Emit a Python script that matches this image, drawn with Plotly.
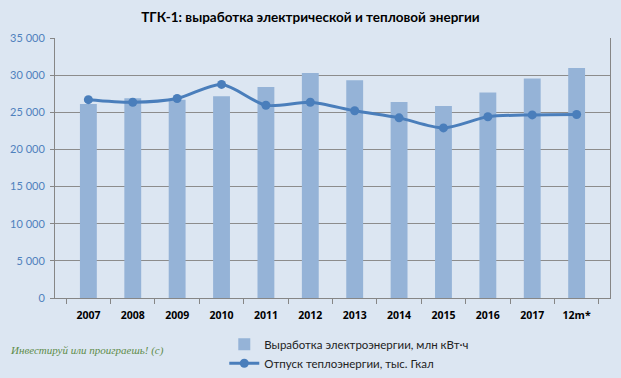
import plotly.graph_objects as go

categories = ["2007", "2008", "2009", "2010", "2011", "2012", "2013", "2014", "2015", "2016", "2017", "12m*"]
electricity = [26100, 26900, 26700, 27150, 28400, 30300, 29300, 26400, 25850, 27650, 29550, 30950]
heat = [26700, 26350, 26850, 28750, 25950, 26350, 25200, 24250, 22900, 24400, 24650, 24700]

bg = "#DCE6F2"
fig = go.Figure()
fig.add_trace(go.Bar(
    x=categories, y=electricity, name="Выработка электроэнергии, млн кВт·ч",
    marker=dict(color="#95B3D7", line=dict(width=0)),
))
fig.add_trace(go.Scatter(
    x=categories, y=heat, name="Отпуск теплоэнергии, тыс. Гкал",
    mode="lines+markers", line=dict(color="#4A7EBB", width=3, shape="spline", smoothing=0.8),
    marker=dict(size=9, color="#4A7EBB"),
))

fig.update_layout(
    width=621, height=378,
    margin=dict(l=55, r=11, t=38, b=80, autoexpand=False),
    paper_bgcolor=bg, plot_bgcolor=bg,
    separators=", ",
    bargap=0.62,
    title=dict(text="<b>ТГК-1: выработка электрической и тепловой энергии</b>",
               x=0.5, xanchor="center", y=0.955, yanchor="middle",
               font=dict(family="Lato", size=13.5, color="#000000")),
    font=dict(family="Lato"),
    legend=dict(x=0.305, y=-0.122, xanchor="left", yanchor="top",
                bgcolor="rgba(0,0,0,0)", font=dict(size=11.5, color="#222222"),
                tracegroupgap=0, itemwidth=30),
    showlegend=True,
)
fig.update_xaxes(
    showline=True, linecolor="#868686", linewidth=1,
    ticks="outside", ticklen=5, tickcolor="#868686", tickson="boundaries",
    ticklabelstandoff=7,
    tickfont=dict(family="Open Sans", size=10.5, color="#000000", weight="bold"),
    showgrid=False,
)
fig.update_yaxes(
    range=[0, 35000], tickvals=[0, 5000, 10000, 15000, 20000, 25000, 30000, 35000],
    tickformat=",d",
    showline=True, linecolor="#868686", linewidth=1, mirror=True,
    ticks="outside", ticklen=4, tickcolor="#868686",
    ticklabelstandoff=3,
    showgrid=True, gridcolor="#8C8C8C", gridwidth=1,
    tickfont=dict(family="Lato", size=11, color="#4F81BD"),
    zeroline=False,
)
fig.add_annotation(
    text="<i>Инвестируй или проиграешь! (c)</i>", xref="paper", yref="paper",
    x=-0.085, y=-0.2, xanchor="left", yanchor="middle", showarrow=False,
    font=dict(family="Liberation Serif", size=11, color="#5E8C4A"),
)
fig.write_html("out.html", config={"displayModeBar": False},
               post_script="document.body.style.margin='0';document.body.style.background='#DCE6F2';")
